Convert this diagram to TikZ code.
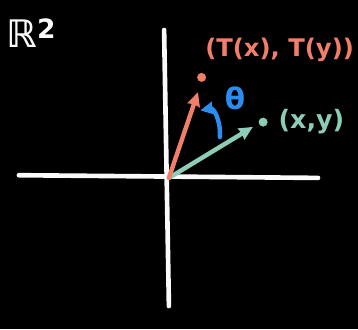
\documentclass[tikz,border=0pt]{standalone}
\usepackage{fontspec}
\setmainfont{DejaVu Sans}
\usetikzlibrary{arrows.meta,calc}
\usepackage{tkz-euclide}
\definecolor{AxisClr}{RGB}{250,250,250}
\definecolor{RedClr}{RGB}{240,126,104}
\definecolor{GreenClr}{RGB}{140,204,184}
\definecolor{BlueClr}{RGB}{44,140,240}

\begin{document}
\begin{tikzpicture}

\tkzDefPoints{-5.6/5.9/P,6.333/-5.067/Q}
\fill[black] (P) rectangle (Q);
\useasboundingbox (P) rectangle (Q);

\tkzDefPoints{-4.97/0.06/XL,5.0/-0.03/XR,-0.13/4.9/YT,0.03/-4.3/YB}
\tkzDefPoints{0.03/-0.03/O,1.0/2.83/A,1.12/3.32/Ta,2.83/1.67/B,3.17/1.83/Xa}
\tkzDefPoints{1.73/1.33/R1,1.76/1.95/R2,1.5/2.3/R3,1.08/2.22/R4}

% axes
\tkzDrawSegments[line width=4.4pt,color=AxisClr,line cap=round](XL,XR YT,YB)

% vectors
\tkzDrawSegments[line width=4.2pt,color=GreenClr,line cap=round,-{Stealth[length=13pt,width=12pt,inset=1pt]}](O,B)
\tkzDrawSegments[line width=4.2pt,color=RedClr,line cap=round,-{Stealth[length=13pt,width=12pt,inset=1pt]}](O,A)

% rotation
\draw[line width=4.2pt,color=BlueClr,line cap=round,-{Stealth[length=12pt,width=12pt,inset=1pt]}] (R1) .. controls (R2) and (R3) .. (R4);

\tkzDrawPoints[size=8,color=RedClr,fill=RedClr](Ta)
\tkzDrawPoints[size=8,color=GreenClr,fill=GreenClr](Xa)

\node[text=RedClr,font=\bfseries\fontsize{23}{28}\selectfont] (tlab) at (3.72,4.23) {(T(x), T(y))};
\node[text=GreenClr,font=\bfseries\fontsize{24}{28}\selectfont] (xlab) at (4.78,1.86) {(x,y)};
\node[text=BlueClr,font=\bfseries\fontsize{28}{32}\selectfont] (th) at (2.23,2.63) {θ};
\node[text=AxisClr,font=\bfseries\fontsize{36}{40}\selectfont,anchor=west] (sp) at (-5.5,4.8) {ℝ\textsuperscript{2}};

\end{tikzpicture}
\end{document}
